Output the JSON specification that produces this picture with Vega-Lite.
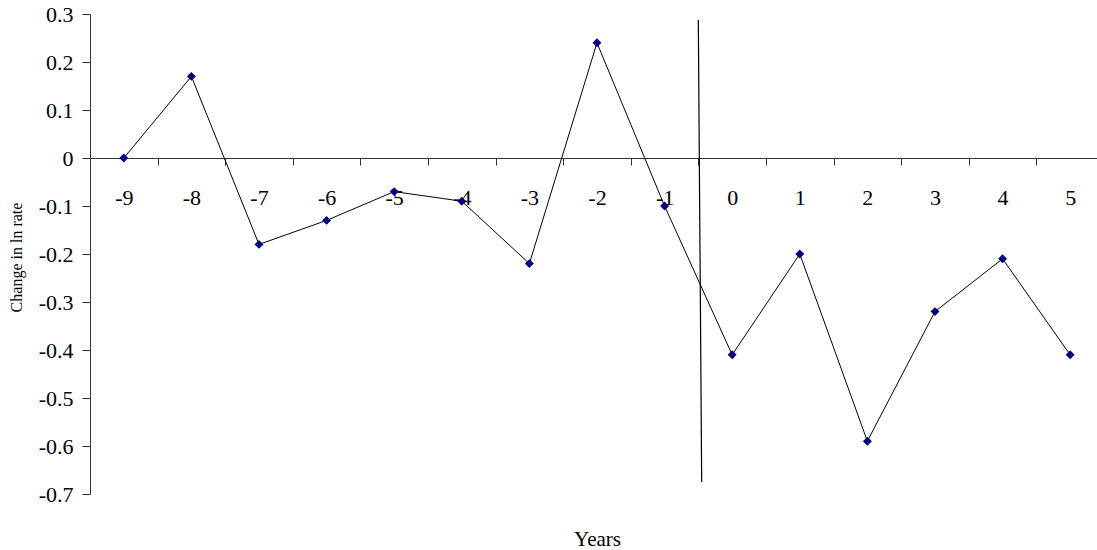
{
  "$schema": "https://vega.github.io/schema/vega-lite/v6.json",
  "width": 1007,
  "height": 480,
  "autosize": "none",
  "padding": {"left": 90, "top": 14, "right": 0, "bottom": 56},
  "background": "white",
  "config": {"view": {"stroke": null}, "font": "Liberation Serif"},
  "datasets": {
    "series": [
      {"year": -9, "change": 0.0},
      {"year": -8, "change": 0.17},
      {"year": -7, "change": -0.18},
      {"year": -6, "change": -0.13},
      {"year": -5, "change": -0.07},
      {"year": -4, "change": -0.09},
      {"year": -3, "change": -0.22},
      {"year": -2, "change": 0.24},
      {"year": -1, "change": -0.1},
      {"year": 0, "change": -0.41},
      {"year": 1, "change": -0.2},
      {"year": 2, "change": -0.59},
      {"year": 3, "change": -0.32},
      {"year": 4, "change": -0.21},
      {"year": 5, "change": -0.41}
    ],
    "divider": [
      {"x1": -0.501, "x2": -0.451, "y1": 0.2875, "y2": -0.675}
    ]
  },
  "layer": [
    {
      "data": {"name": "series"},
      "mark": {"type": "line", "color": "black", "strokeWidth": 1},
      "encoding": {
        "x": {
          "field": "year",
          "type": "quantitative",
          "scale": {"domain": [-9.5, 5.397], "nice": false, "zero": false},
          "axis": {
            "orient": "bottom",
            "offset": -336,
            "values": [-9, -8, -7, -6, -5, -4, -3, -2, -1, 0, 1, 2, 3, 4, 5],
            "labelExpr": "(datum.value < 0 ? '-' : '') + format(abs(datum.value), 'd')",
            "labelFont": "Liberation Serif",
            "labelFontSize": 22,
            "labelColor": "black",
            "labelPadding": 22,
            "labelOffset": -33.8,
            "labelFlush": false,
            "labelOverlap": false,
            "ticks": true,
            "tickSize": 7,
            "tickOffset": 33.8,
            "tickColor": "#333333",
            "domainColor": "#333333",
            "domainWidth": 1,
            "grid": false,
            "title": "Years",
            "titleFont": "Liberation Serif",
            "titleFontSize": 21,
            "titleFontWeight": "normal",
            "titleColor": "black",
            "titleX": 507,
            "titleY": 387,
            "titleAlign": "center",
            "titleBaseline": "alphabetic"
          }
        },
        "y": {
          "field": "change",
          "type": "quantitative",
          "scale": {"domain": [-0.7, 0.3], "nice": false, "zero": false},
          "axis": {
            "orient": "left",
            "values": [-0.7, -0.6, -0.5, -0.4, -0.3, -0.2, -0.1, 0, 0.1, 0.2, 0.3],
            "labelExpr": "datum.value == 0 ? '0' : (datum.value < 0 ? '-' : '') + format(abs(datum.value), '.1f')",
            "labelFont": "Liberation Serif",
            "labelFontSize": 22,
            "labelColor": "black",
            "labelPadding": 9,
            "labelFlush": false,
            "labelOverlap": false,
            "tickSize": 8,
            "tickColor": "#333333",
            "domainColor": "#333333",
            "grid": false,
            "title": "Change in ln rate",
            "titleFont": "Liberation Serif",
            "titleFontSize": 16,
            "titleFontWeight": "normal",
            "titleColor": "black",
            "titleAngle": -90,
            "titleX": -74,
            "titleY": 243,
            "titleAlign": "center",
            "titleBaseline": "middle"
          }
        }
      }
    },
    {
      "data": {"name": "divider"},
      "mark": {"type": "rule", "color": "black", "strokeWidth": 1.2},
      "encoding": {
        "x": {"field": "x1", "type": "quantitative"},
        "x2": {"field": "x2"},
        "y": {"field": "y1", "type": "quantitative"},
        "y2": {"field": "y2"}
      }
    },
    {
      "data": {"name": "series"},
      "mark": {"type": "point", "shape": "diamond", "filled": true, "color": "#000080", "size": 80, "opacity": 1},
      "encoding": {
        "x": {"field": "year", "type": "quantitative"},
        "y": {"field": "change", "type": "quantitative"}
      }
    }
  ]
}
